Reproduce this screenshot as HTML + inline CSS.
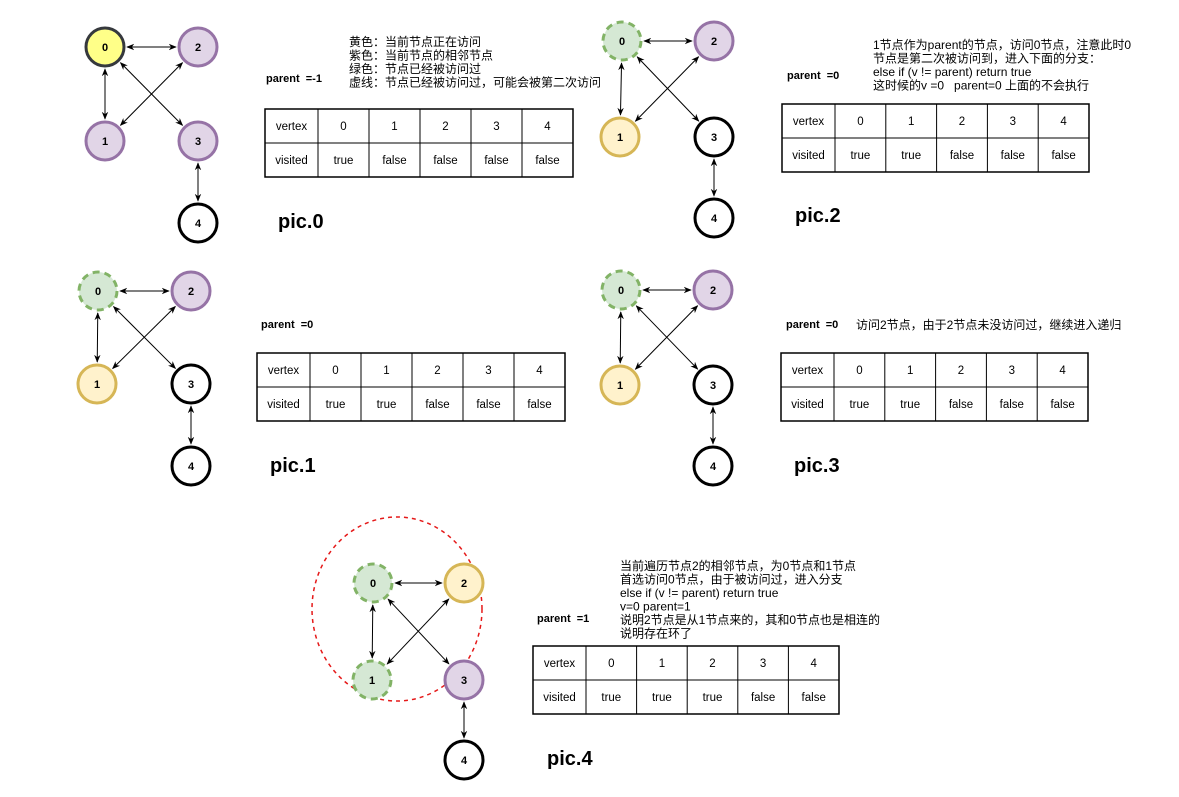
<!DOCTYPE html>
<html><head><meta charset="utf-8">
<style>
html,body{margin:0;padding:0;background:#fff;}
svg{display:block;font-family:"Liberation Sans","Noto Sans CJK SC",sans-serif;}
text{white-space:pre;}
</style></head>
<body>
<svg id="s" width="1179" height="797" viewBox="0 0 1179 797" xmlns="http://www.w3.org/2000/svg">
<defs>
<marker id="ar" viewBox="0 0 10 10" refX="9" refY="5" markerWidth="8" markerHeight="8" orient="auto-start-reverse"><path d="M0,1 L10,5 L0,9 L3,5 z" fill="#000"/></marker>
</defs>
<ellipse cx="397" cy="609" rx="85" ry="92" fill="none" stroke="#e51919" stroke-width="1.5" stroke-dasharray="4,4"/>
</svg>
<script>
const NS="http://www.w3.org/2000/svg";
const svg=document.getElementById('s');
const vertices=["0","1","2","3","4"];
const edges=[[0,2],[0,1],[2,1],[0,3],[3,4]];
const picNames=["pic.0","pic.1","pic.2","pic.3","pic.4"];
const nodePos=[
 [[105,47],[105,141],[198,47],[198,141],[198,223]],
 [[98,291],[97,384],[191,291],[191,384],[191,466]],
 [[622,41],[620,137],[714,41],[714,137],[714,218]],
 [[621,290],[620,385],[713,290],[713,385],[713,466]],
 [[373,583],[372,680],[464,583],[464,680],[464,760]]
];
const nodeState=[
 ["cur","adj","adj","adj","none"],
 ["seen","cur2","adj","none","none"],
 ["seen","cur2","adj","none","none"],
 ["seen","cur2","adj","none","none"],
 ["seen","seen","cur2","adj","none"]
];
const visited=[
 ["true","false","false","false","false"],
 ["true","true","false","false","false"],
 ["true","true","false","false","false"],
 ["true","true","false","false","false"],
 ["true","true","true","false","false"]
];
const tableBox=[[265,109,573,177],[257,353,565,421],[782,104,1089,172],[781,353,1088,421],[533,646,839,714]];
const parentLbl=[["parent  =-1",266,82],["parent  =0",261,328],["parent  =0",787,79],["parent  =0",786,328],["parent  =1",537,622]];
const picLbl=[[278,228],[270,472],[795,222],[794,472],[547,765]];
const notes=[
 [349,46,["黄色：当前节点正在访问","紫色：当前节点的相邻节点","绿色：节点已经被访问过","虚线：节点已经被访问过，可能会被第二次访问"]],
 [873,49,["1节点作为parent的节点，访问0节点，注意此时0","节点是第二次被访问到，进入下面的分支：","else if (v != parent) return true","这时候的v =0   parent=0 上面的不会执行"]],
 [856,329,["访问2节点，由于2节点未没访问过，继续进入递归"]],
 [620,570,["当前遍历节点2的相邻节点，为0节点和1节点","首选访问0节点，由于被访问过，进入分支","else if (v != parent) return true","v=0 parent=1","说明2节点是从1节点来的，其和0节点也是相连的","说明存在环了"]]
];
const style={cur:["#ffff88","#36393d",""],cur2:["#fff2cc","#d6b656",""],adj:["#e1d5e7","#9673a6",""],seen:["#d5e8d4","#82b366","7,5"],none:["#ffffff","#000000",""]};
const R=19;
function mk(t,a,p){const e=document.createElementNS(NS,t);for(const k in a)e.setAttribute(k,a[k]);(p||svg).appendChild(e);return e;}
nodePos.forEach((pos,pi)=>{
 const g=mk('g',{});
 
 
 edges.forEach(([a,b])=>{
  const [x1,y1]=pos[a],[x2,y2]=pos[b];
  const dx=x2-x1,dy=y2-y1,L=Math.hypot(dx,dy),o=R+3;
  const l=mk('line',{x1:x1+dx/L*o,y1:y1+dy/L*o,x2:x2-dx/L*o,y2:y2-dy/L*o,stroke:'#000','stroke-width':1,'marker-start':'url(#ar)','marker-end':'url(#ar)'},g);
  
  
 });
 pos.forEach(([x,y],i)=>{
  const st=style[nodeState[pi][i]];
  const c=mk('circle',{cx:x,cy:y,r:R,fill:st[0],stroke:st[1],'stroke-width':3},g);
  if(st[2])c.setAttribute('stroke-dasharray',st[2]);
  
  
  const t=mk('text',{x:x,y:y+4,'text-anchor':'middle','font-size':11,'font-weight':'bold'},g);
  t.textContent=vertices[i];
  
  
 });
 const [tx1,ty1,tx2,ty2]=tableBox[pi];
 const tg=mk('g',{});
 
 
 const w0=53,cw=(tx2-tx1-w0)/5,my=(ty1+ty2)/2;
 mk('rect',{x:tx1,y:ty1,width:tx2-tx1,height:ty2-ty1,fill:'#fff',stroke:'#000','stroke-width':1.5},tg);
 mk('line',{x1:tx1,y1:my,x2:tx2,y2:my,stroke:'#000','stroke-width':1},tg);
 for(let k=0;k<5;k++){const x=tx1+w0+k*cw;mk('line',{x1:x,y1:ty1,x2:x,y2:ty2,stroke:'#000','stroke-width':1},tg);}
 const cell=(x,y,s)=>{const t=mk('text',{x:x,y:y,'text-anchor':'middle','font-size':11.5},tg);t.textContent=s;};
 cell(tx1+w0/2,(ty1+my)/2+4,"vertex");cell(tx1+w0/2,(my+ty2)/2+4,"visited");
 vertices.forEach((v,k)=>{const cx=tx1+w0+cw*(k+0.5);cell(cx,(ty1+my)/2+4,v);cell(cx,(my+ty2)/2+4,visited[pi][k]);});
 const p=mk('text',{x:parentLbl[pi][1],y:parentLbl[pi][2],'font-size':11,'font-weight':'bold'});
 p.textContent=parentLbl[pi][0];
 
 
 const pc=mk('text',{x:picLbl[pi][0],y:picLbl[pi][1],'font-size':20,'font-weight':'bold'});
 pc.textContent=picNames[pi];
 
 
});
notes.forEach(([x,y,lines],ni)=>{
 const g=mk('g',{});
 
 
 lines.forEach((s,k)=>{const t=mk('text',{x:x,y:y+k*13.5,'font-size':12},g);t.textContent=s;});
});
</script>
</body></html>
